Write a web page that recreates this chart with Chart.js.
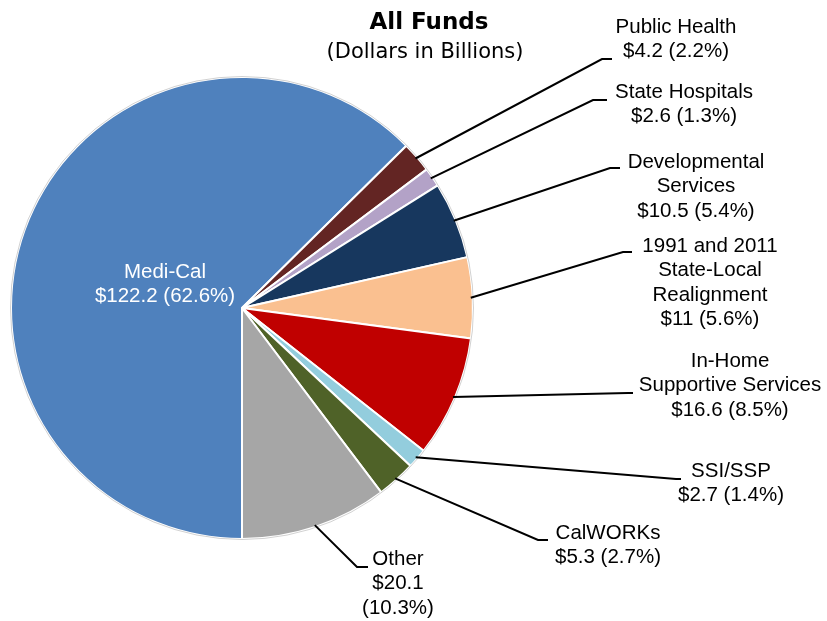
<!DOCTYPE html>
<html lang="en">
  <head>
    <meta charset="UTF-8" />
    <title>All Funds</title>
    <script src="https://cdn.jsdelivr.net/npm/chart.js"></script>
    <style>
      html, body { margin: 0; padding: 0; background: #fff; }
      #wrap { width: 827px; height: 621px; }
    </style>
  </head>
  <body>
    <div id="wrap">
      <canvas id="pie" width="827" height="621"></canvas>
    </div>
  </body>
</html>

<script>
  // data (dollars in billions)
  const categorias = ["Medi-Cal", "Public Health", "State Hospitals", "Developmental Services",
    "1991 and 2011 State-Local Realignment", "In-Home Supportive Services", "SSI/SSP", "CalWORKs", "Other"];
  const valores = [122.2, 4.2, 2.6, 10.5, 11, 16.6, 2.7, 5.3, 20.1];
  const percentuais = [62.6, 2.2, 1.3, 5.4, 5.6, 8.5, 1.4, 2.7, 10.3];
  const nomesEmLinhas = [
    ["Medi-Cal"],
    ["Public Health"],
    ["State Hospitals"],
    ["Developmental", "Services"],
    ["1991 and 2011", "State-Local", "Realignment"],
    ["In-Home", "Supportive Services"],
    ["SSI/SSP"],
    ["CalWORKs"],
    ["Other"]
  ];
  const cores = ["#4F81BD", "#632523", "#B3A2C7", "#17375E", "#FAC090", "#C00000", "#93CDDD", "#4F6228", "#A6A6A6"];

  const titulo = "All Funds";
  const subtitulo = "(Dollars in Billions)";

  // where each label sits: elbow of the leader, end of the short tick, text centre and first line
  const posRotulos = [
    { dentro: true, cx: 165, y: 272 },
    { cotovelo: [602, 59], fim: 612, cx: 676, y: 27 },
    { cotovelo: [593, 100], fim: 607, cx: 684, y: 92 },
    { cotovelo: [610, 168], fim: 620, cx: 696, y: 162 },
    { cotovelo: [623, 252], fim: 632, cx: 710, y: 246 },
    { cotovelo: [628, 393], fim: 633, cx: 730, y: 361 },
    { cotovelo: [676, 479], fim: 681, cx: 731, y: 471 },
    { cotovelo: [538, 540], fim: 548, cx: 608, y: 533 },
    { cotovelo: [357, 567], fim: 368, cx: 398, y: 559, quebrar: true }
  ];

  const fonteRotulo = "20.5px 'Liberation Sans', Arial, sans-serif";
  const alturaLinha = 24.5;

  function linhasDoRotulo(i) {
    let linhas = nomesEmLinhas[i].slice();
    let v = "$" + valores[i];
    let p = "(" + percentuais[i] + "%)";
    if (posRotulos[i].quebrar) {
      linhas.push(v);
      linhas.push(p);
    } else {
      linhas.push(v + " " + p);
    }
    return linhas;
  }

  // draws title, leader lines and labels
  const rotulosPlugin = {
    id: "rotulos",
    afterDatasetsDraw(chart) {
      const ctx = chart.ctx;
      const arcos = chart.getDatasetMeta(0).data;

      // thin grey rim round the pie
      const a0 = arcos[0];
      ctx.save();
      ctx.beginPath();
      ctx.arc(a0.x, a0.y, a0.outerRadius + 0.5, 0, Math.PI * 2);
      ctx.strokeStyle = "rgba(0,0,0,0.18)";
      ctx.lineWidth = 1;
      ctx.stroke();
      ctx.restore();

      ctx.save();
      ctx.textAlign = "center";
      ctx.textBaseline = "middle";

      for (let i = 0; i < arcos.length; i++) {
        const arco = arcos[i];
        const pos = posRotulos[i];
        const linhas = linhasDoRotulo(i);

        if (pos.dentro) {
          ctx.fillStyle = "#ffffff";
        } else {
          const meio = (arco.startAngle + arco.endAngle) / 2;
          const x0 = arco.x + Math.cos(meio) * (arco.outerRadius - 2);
          const y0 = arco.y + Math.sin(meio) * (arco.outerRadius - 2);
          ctx.beginPath();
          ctx.moveTo(x0, y0);
          ctx.lineTo(pos.cotovelo[0], pos.cotovelo[1]);
          ctx.lineTo(pos.fim, pos.cotovelo[1]);
          ctx.strokeStyle = "#000000";
          ctx.lineWidth = 2;
          ctx.stroke();
          ctx.fillStyle = "#000000";
        }

        ctx.font = fonteRotulo;
        for (let k = 0; k < linhas.length; k++) {
          ctx.fillText(linhas[k], pos.cx, pos.y + k * alturaLinha);
        }
      }

      // title
      ctx.fillStyle = "#000000";
      ctx.font = "bold 23px 'DejaVu Sans', sans-serif";
      ctx.fillText(titulo, 429, 23);
      ctx.font = "21px 'DejaVu Sans', sans-serif";
      ctx.fillText(subtitulo, 425, 53);
      ctx.restore();
    }
  };

  const dados = {
    labels: categorias,
    datasets: [
      {
        data: valores,
        backgroundColor: cores,
        borderColor: "#ffffff",
        borderWidth: 2,
        hoverOffset: 0
      }
    ]
  };

  const config = {
    type: "pie",
    data: dados,
    options: {
      responsive: false,
      animation: false,
      rotation: 180,
      layout: { padding: { left: 10, right: 353, top: 76, bottom: 81 } },
      plugins: {
        legend: { display: false },
        tooltip: { enabled: false },
        title: { display: false }
      }
    },
    plugins: [rotulosPlugin]
  };

  let meuGrafico = new Chart(document.getElementById("pie"), config);
</script>
